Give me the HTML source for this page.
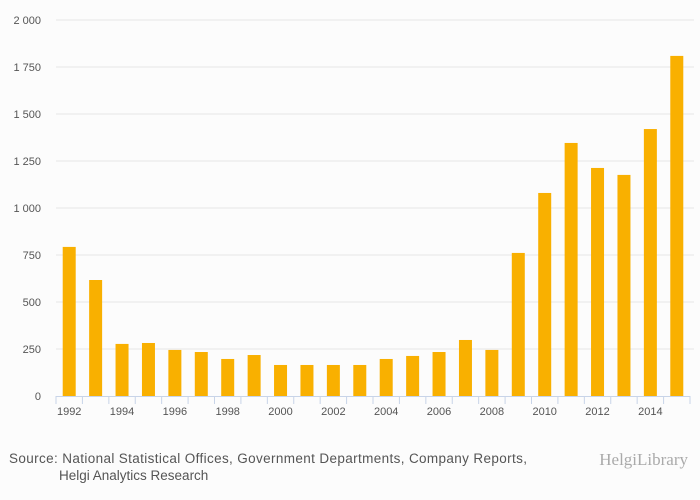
<!DOCTYPE html>
<html><head><meta charset="utf-8"><style>
body{margin:0;background:#fcfcfc;font-family:"Liberation Sans",sans-serif}
svg{display:block}
</style></head><body>
<svg width="700" height="500">
<rect width="700" height="500" fill="#fcfcfc"/>
<g id="grid"></g><g id="bars"></g><g id="xaxis"></g>
<text x="9" y="463" font-size="13.5" fill="#555" textLength="518">Source: National Statistical Offices, Government Departments, Company Reports,</text>
<text x="59" y="480" font-size="13.5" fill="#555">Helgi Analytics Research</text>
<text x="688" y="465" font-size="17" fill="#aaa" text-anchor="end" font-family="Liberation Serif,serif">HelgiLibrary</text>
</svg>
<script>
const years=[1992,1993,1994,1995,1996,1997,1998,1999,2000,2001,2002,2003,2004,2005,2006,2007,2008,2009,2010,2011,2012,2013,2014,2015];
const values=[793,617,277,282,245,234,197,218,165,165,165,165,197,213,234,298,245,761,1080,1346,1213,1176,1420,1809];
const yTicks=[0,250,500,750,1000,1250,1500,1750,2000];
const yTickLabels=["0","250","500","750","1 000","1 250","1 500","1 750","2 000"];
const NS="http://www.w3.org/2000/svg";
const x0=56,x1=690,y0=396,y1=20,yMax=2000;
const band=(x1-x0)/years.length;
const y=v=>y0-(v/yMax)*(y0-y1);
const xc=i=>x0+band*(i+0.5);
function mk(t,a,p){const e=document.createElementNS(NS,t);for(const k in a)e.setAttribute(k,a[k]);p.appendChild(e);return e;}
const g=document.getElementById('grid'),b=document.getElementById('bars'),xa=document.getElementById('xaxis');
yTicks.forEach((v,i)=>{
 if(v>0){const l=mk('line',{x1:x0,x2:x1+4,y1:y(v),y2:y(v),stroke:'#e6e6e6'},g);
 
 }
 const t=mk('text',{x:41,y:y(v)+4,'font-size':11,fill:'#555','text-anchor':'end'},g);t.textContent=yTickLabels[i];
 
 
});
values.forEach((v,i)=>{
 const r=mk('rect',{x:xc(i)-6.5,y:y(v),width:13,height:y0-y(v),fill:'#f9b000'},b);
 
 
});
const ax=mk('line',{x1:x0,x2:x1,y1:y0+0.5,y2:y0+0.5,stroke:'#c8d4e8'},xa);


for(let i=0;i<=years.length;i++){const tk=mk('line',{x1:x0+band*i,x2:x0+band*i,y1:y0,y2:y0+8,stroke:'#c8d4e8'},xa);
 
 }
years.forEach((yr,i)=>{if(i%2)return;
 const t=mk('text',{x:xc(i),y:415,'font-size':11,fill:'#555','text-anchor':'middle'},xa);t.textContent=yr;
 
 
});
</script>
</body></html>
